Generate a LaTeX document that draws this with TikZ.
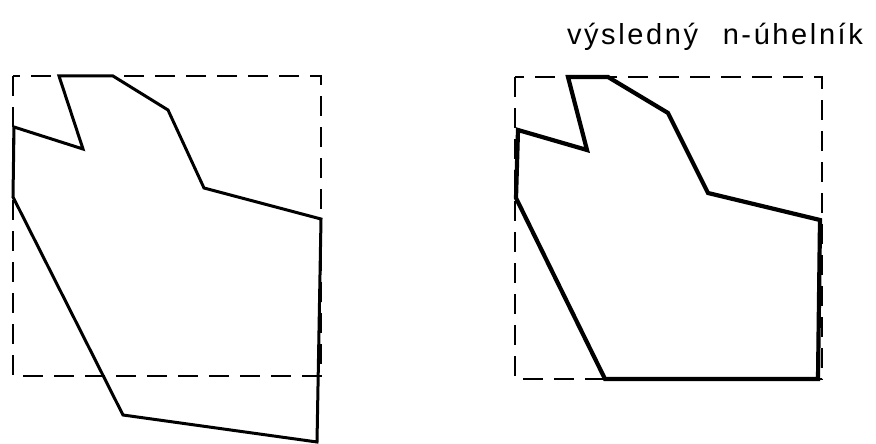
\documentclass[tikz,border=0pt]{standalone}
\usepackage{fontspec}
\setmainfont{Liberation Sans}
\tikzset{
  frame/.style={line width=1.8pt, dash pattern=on 20pt off 11pt},
  polyline/.style={line width=3pt, line join=miter},
  result/.style={line width=4.2pt, line join=miter}
}
\begin{document}
\begin{tikzpicture}[x=1pt,y=-1pt]
  \useasboundingbox (0,0) rectangle (876,444);

  % original polygon and window
  \draw[frame] (13,76) rectangle (321,376);
  \draw[polyline] (59,76) -- (83,149) -- (14,127) -- (13,197) -- (123,415)
    -- (317,442) -- (321,219) -- (204,188) -- (168,110) -- (113,76) -- cycle;

  % clipped result
  \begin{scope}[xshift=502pt]
  \node[font=\fontsize{29}{32}\selectfont\addfontfeature{LetterSpace=9}] at (213,37) {výsledný\hspace{14pt} n-úhelník};
  \draw[frame] (13,77) rectangle (320,379);
  \draw[result] (66,77) -- (85,150) -- (16,130) -- (14,198) -- (103,379)
    -- (316,379) -- (318,220) -- (206,193) -- (166,113) -- (106,77) -- cycle;
  \end{scope}
\end{tikzpicture}
\end{document}
